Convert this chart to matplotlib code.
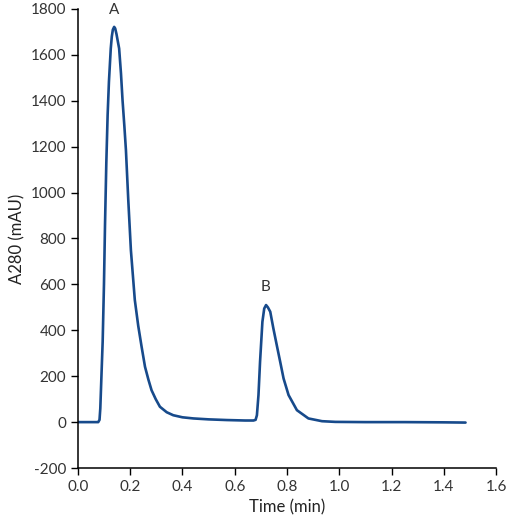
import numpy as np
import matplotlib
matplotlib.use("Agg")
import matplotlib.pyplot as plt

# ── Chromatogram trace (time in min, A280 in mAU) ──
time_min = [
    0.000, 0.040, 0.078, 0.083, 0.086, 0.090, 0.095, 0.100, 0.104, 0.109,
    0.114, 0.119, 0.126, 0.130, 0.134, 0.139, 0.143, 0.148, 0.152, 0.158,
    0.165, 0.171, 0.178, 0.184, 0.193, 0.203, 0.218, 0.231, 0.244, 0.257,
    0.270, 0.282, 0.298, 0.314, 0.340, 0.365, 0.400, 0.442, 0.500, 0.570,
    0.640, 0.672, 0.680, 0.685, 0.691, 0.697, 0.706, 0.713, 0.720, 0.727,
    0.736, 0.748, 0.761, 0.774, 0.787, 0.806, 0.838, 0.882, 0.934, 0.985,
    1.100, 1.250, 1.400, 1.483,
]
a280_mau = [
    0, 0, 0, 10, 60, 190, 350, 600, 860, 1130,
    1338, 1483, 1628, 1680, 1710, 1722, 1715, 1690, 1665, 1628,
    1520, 1403, 1290, 1185, 967, 749, 532, 420, 328, 241,
    185, 139, 100, 67, 43, 30, 21, 16, 12, 9,
    7, 7, 10, 30, 118, 263, 437, 495, 510, 500,
    481, 408, 335, 263, 190, 118, 52, 16, 4, 1,
    0, 0, -1, -2,
]

peak_labels = ["A", "B"]
peak_pos = [(0.140, 1795), (0.719, 588)]

xticks = np.arange(0.0, 1.61, 0.2)
yticks = np.arange(-200, 1801, 200)

LINE_COLOR = "#174a8b"

plt.rcParams["font.family"] = ["Lato", "DejaVu Sans"]

fig = plt.figure(figsize=(5.12, 5.28), dpi=100)
ax = fig.add_axes([0.152, 0.1136, 0.817, 0.8694])

ax.plot(time_min, a280_mau, color=LINE_COLOR, lw=1.9,
        solid_joinstyle="round", solid_capstyle="round")

for lab, (px, py) in zip(peak_labels, peak_pos):
    ax.text(px, py, lab, ha="center", va="center", fontsize=11, color="#333333")

ax.set_xlim(0, 1.6)
ax.set_ylim(-200, 1800)
ax.set_xticks(xticks)
ax.set_yticks(yticks)
ax.xaxis.set_major_formatter(plt.FuncFormatter(lambda v, _: f"{v:.1f}"))
ax.yaxis.set_major_formatter(plt.FuncFormatter(lambda v, _: f"{v:.0f}"))
ax.tick_params(labelsize=11, length=5, width=1, colors="black",
               labelcolor="#333333")

for side in ("top", "right"):
    ax.spines[side].set_visible(False)
for side in ("left", "bottom"):
    ax.spines[side].set_linewidth(1.1)

ax.set_xlabel("Time (min)", fontsize=12, color="#222222", labelpad=4)
ax.set_ylabel("A280 (mAU)", fontsize=12, color="#222222", labelpad=4)

fig.savefig("out.png", dpi=100)
plt.close(fig)
